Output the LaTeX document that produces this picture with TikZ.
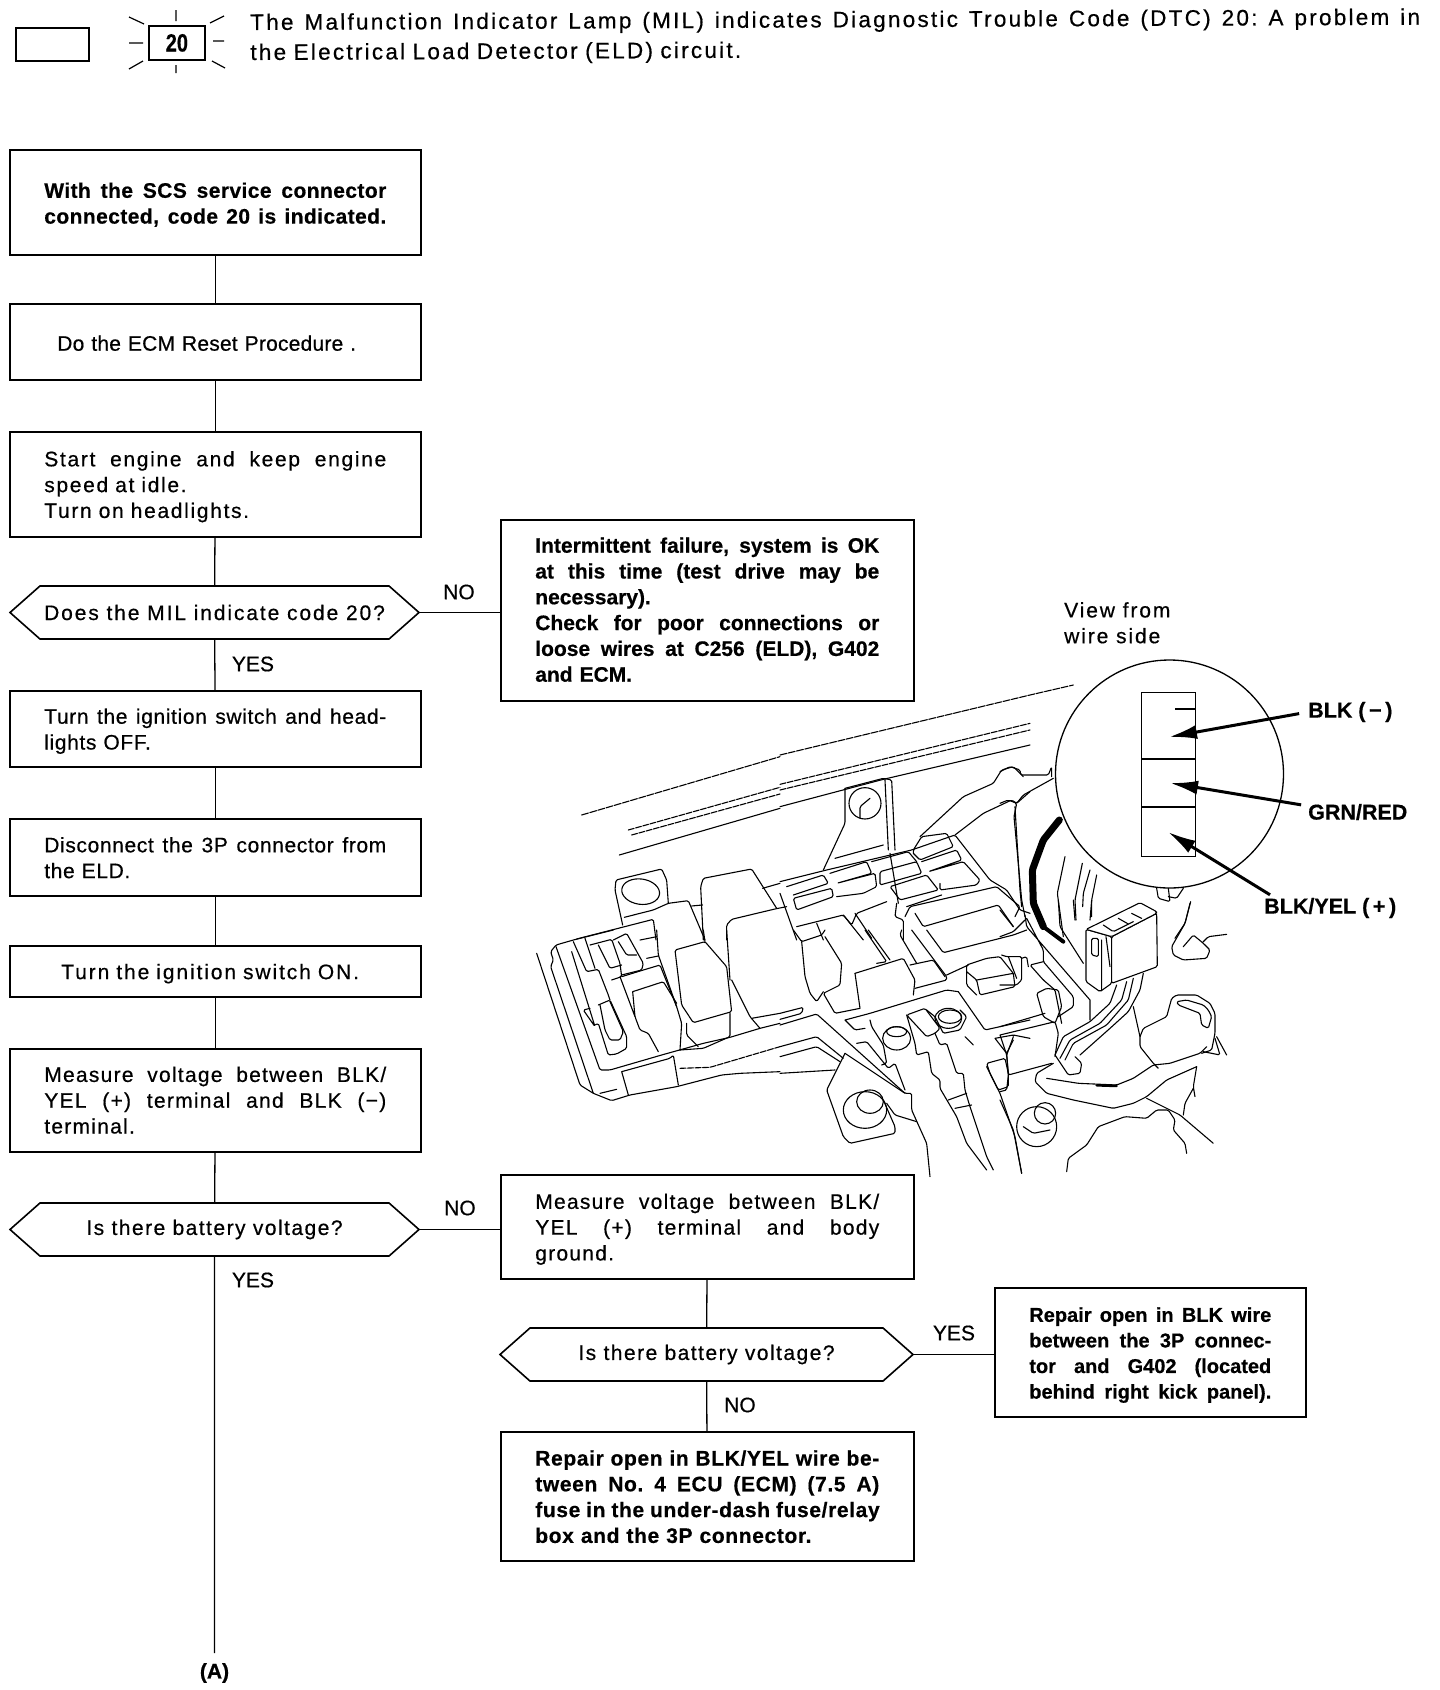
\documentclass[tikz,border=0pt]{standalone}
\usepackage{fontspec}
\setmainfont[RawFeature={embolden=0.5}]{Liberation Sans}
\usetikzlibrary{positioning, arrows.meta, calc, shapes.symbols}
\newcommand{\fillline}[1]{\makebox[\hsize][s]{\spaceskip=.28em plus 1fil\relax\xspaceskip=\spaceskip #1}}
\begin{document}
\begin{tikzpicture}[
    x=1pt, y=-1pt,
    font=\fontsize{21}{25.8}\selectfont,
    stepbox/.style 2 args={draw, line width=1.6pt, anchor=north west, fill=white,
        minimum width=#1, minimum height=#2, text width=#1-69pt, text height=20pt,
        align=left, inner sep=0pt},
    query/.style={draw, line width=1.6pt, signal, signal from=nowhere,
        signal to=west and east, signal pointer angle=83, fill=white,
        minimum width=#1, minimum height=53pt, align=center, inner sep=0pt},
    roomy/.style={font=\fontsize{21}{25.8}\selectfont\addfontfeature{LetterSpace=#1}},
    roomy/.default=6,
    strong/.style={font=\fontsize{21}{25.8}\selectfont\bfseries\addfontfeature{LetterSpace=#1}},
    strong/.default=0,
    flow/.style={line width=1.3pt},
    answer/.style={inner sep=0pt},
    tag/.style={font=\fontsize{21.5}{24}\selectfont\bfseries, inner sep=0pt, anchor=west},
    wire/.style={line width=3pt, -{Latex[length=28pt,width=14pt]}},
    sketch/.style={line width=1.1pt, line join=round, line cap=round, rounded corners=1.5pt},
  ]
  \useasboundingbox (0,0) rectangle (1440,1690);
  \node[draw, line width=1.8pt, anchor=north west, minimum width=73pt, minimum height=33pt] (lamp_off) at (15,27) {};
  \node[draw, line width=1.8pt, anchor=north west, minimum width=56pt, minimum height=34pt,
      inner sep=0pt, font=\fontsize{25}{25}\selectfont\bfseries] (lamp_on) at (148,25) {\scalebox{.8}[1]{20}};
  \draw[line width=1.2pt] (176,10) -- (176,21) (176,65) -- (176,73) (129,43) -- (143,43) (213,41) -- (224,41)
      (129,17) -- (144,24) (210,23) -- (224,16) (129,69) -- (143,61) (212,61) -- (225,68);
  \node[anchor=north west, text width=1170pt, align=left, inner sep=0pt, rotate=0.26,
      font=\fontsize{22.5}{30}\selectfont\addfontfeature{LetterSpace=10}] (heading) at (250,13.5)
      {\fillline{The Malfunction Indicator Lamp (MIL) indicates Diagnostic Trouble Code (DTC) 20: A problem in}\\the Electrical Load Detector (ELD) circuit.};

  \node[stepbox={411pt}{105pt}, strong=2] (scs_state) at (9,149) {\fillline{With the SCS service connector}\\\fillline{connected, code 20 is indicated.}};
  \node[stepbox={411pt}{76pt}, roomy=1, text height=18pt] (ecm_reset) at (9,303) {\hspace*{13pt}Do the ECM Reset Procedure .};
  \node[stepbox={411pt}{105pt}, roomy=8] (idle_start) at (9,431) {\fillline{Start engine and keep engine}\\speed at idle.\\Turn on headlights.};
  \node[query=409pt, roomy=9] (mil_query) at (214.5,612.5) {Does the MIL indicate code 20?};
  \node[stepbox={411pt}{76pt}, roomy=3] (ign_off) at (9,690) {\fillline{Turn the ignition switch and head-}\\lights OFF.};
  \node[stepbox={411pt}{77pt}, roomy=3, text height=16pt] (eld_unplug) at (9,818) {\fillline{Disconnect the 3P connector from}\\the ELD.};
  \node[stepbox={411pt}{51pt}, roomy=9] (ign_on) at (9,945) {\hspace*{17pt}Turn the ignition switch ON.};
  \node[stepbox={411pt}{103pt}, roomy, text height=15pt] (measure_blk) at (9,1048) {\fillline{Measure voltage between BLK/}\\\fillline{YEL (+) terminal and BLK (−)}\\terminal.};
  \node[query=409pt, roomy=7] (batt_query) at (214.5,1229.5) {Is there battery voltage?};
  \node[stepbox={413pt}{181pt}, strong, text height=14pt] (intermittent) at (500,519) {\fillline{Intermittent failure, system is OK}\\\fillline{at this time (test drive may be}\\necessary).\\\fillline{Check for poor connections or}\\\fillline{loose wires at C256 (ELD), G402}\\and ECM.};
  \node[stepbox={413pt}{104pt}, roomy] (measure_body) at (500,1174) {\fillline{Measure voltage between BLK/}\\\fillline{YEL (+) terminal and body}\\ground.};
  \node[query=413pt, roomy=7] (body_query) at (706.5,1354.5) {Is there battery voltage?};
  \node[stepbox={311pt}{129pt}, text width=242pt, font=\fontsize{20}{25.6}\selectfont\bfseries] (repair_blk) at (994,1287) {\fillline{Repair open in BLK wire}\\\fillline{between the 3P connec-}\\\fillline{tor and G402 (located}\\\fillline{behind right kick panel).}};
  \node[stepbox={413pt}{129pt}, strong=3, text height=16pt] (repair_yel) at (500,1431) {\fillline{Repair open in BLK/YEL wire be-}\\\fillline{tween No. 4 ECU (ECM) (7.5 A)}\\\fillline{fuse in the under-dash fuse/relay}\\box and the 3P connector.};
  \node[strong, inner sep=0pt] (exit_a) at (214.5,1673) {(A)};

  \draw[flow] (scs_state) -- (ecm_reset);
  \draw[flow] (ecm_reset) -- (idle_start);
  \draw[flow] (idle_start) -- (mil_query);
  \draw[flow] (mil_query) -- (ign_off);
  \draw[flow] (ign_off) -- (eld_unplug);
  \draw[flow] (eld_unplug) -- (ign_on);
  \draw[flow] (ign_on) -- (measure_blk);
  \draw[flow] (measure_blk) -- (batt_query);
  \draw[flow] (batt_query) -- ([yshift=10pt]exit_a.north);
  \draw[flow] (mil_query.east) -- (mil_query.east -| intermittent.west);
  \draw[flow] (batt_query.east) -- (batt_query.east -| measure_body.west);
  \draw[flow] (measure_body) -- (body_query);
  \draw[flow] (body_query) -- (repair_yel);
  \draw[flow] (body_query.east) -- (body_query.east -| repair_blk.west);
  \node[answer] (no_one) at (459,592) {NO};
  \node[answer] (yes_one) at (253,664) {YES};
  \node[answer] (no_two) at (460,1208) {NO};
  \node[answer] (yes_two) at (253,1280) {YES};
  \node[answer] (yes_three) at (954,1333) {YES};
  \node[answer] (no_three) at (740,1405) {NO};

  \begin{scope}[shift={(530,690)}, x=.3333pt, y=-.3333pt, sketch]
    \draw[dash pattern=on 7pt off 1.5pt] (155,375) -- (750,200);
    \draw[dash pattern=on 6pt off 1.5pt] (295,420) -- (750,292) (305,435) -- (750,312);
    \draw (268,495) -- (750,355);
    \draw (278,705) -- (255,600) -- (258,570) -- (395,537) -- (410,570) -- (415,640);
    \draw (332,605) ellipse [x radius=57, y radius=38, rotate=-8];
    \draw (283,682) -- (370,660) -- (415,640) -- (475,632) -- (525,750);
    \draw (140,747) -- (370,688) -- (378,750) (485,648) -- (518,645);
    \draw (520,750) -- (512,590) -- (520,565) -- (665,537) -- (740,655);
    \draw (590,750) -- (590,705) -- (605,688) -- (735,657) -- (770,650) (698,595) -- (750,580);
  \end{scope}
  \begin{scope}[shift={(780,690)}, x=.3333pt, y=-.3333pt, sketch]
    \draw[dash pattern=on 7pt off 1.5pt] (0,195) -- (750,15) -- (880,-15);
    \draw[dash pattern=on 6pt off 1.5pt] (0,283) -- (750,100) (0,300) -- (750,120);
    \draw (0,350) -- (310,268) -- (750,165);
    \draw (195,295) -- (310,265) -- (335,270) -- (345,480) (315,270) -- (325,480);
    \draw (255,340) circle [x radius=48, y radius=47];
    \draw (240,385) -- (240,350) -- (270,325);
    \draw (195,295) -- (195,400) -- (130,540) (165,505) -- (310,465);
    \draw (0,575) -- (140,540) -- (395,480) -- (525,435) -- (630,570) -- (680,600) -- (720,660) -- (750,670);
    \draw (400,490) -- (400,480) -- (425,440) -- (500,430) -- (520,470) -- (420,510) -- (400,490);
    \draw (425,515) -- (530,480) -- (545,510) -- (445,545) -- (550,515) -- (600,570) -- (590,585) -- (480,600) -- (480,580);
    \draw (300,545) -- (410,515) -- (425,550) -- (300,585) -- cycle;
    \draw (330,590) -- (440,555) -- (475,600) -- (360,630) -- cycle;
    \draw (275,515) -- (385,485) -- (410,515) (485,615) -- (380,650);
    \draw (150,550) -- (260,515) -- (275,550) -- (170,580) -- (285,550) -- (290,590) -- (250,610) -- (170,620);
    \draw (20,590) -- (130,555) -- (145,580) -- (40,615);
    \draw (40,625) -- (155,595) -- (160,620) -- (50,660) -- cycle;
    \draw (375,680) -- (390,650) -- (650,590) -- (720,650) -- (705,680);
    \draw (405,670) -- (430,710) -- (655,645) -- (700,710);
    \draw (50,710) -- (190,675) -- (215,705) -- (230,670) -- (320,635);
    \draw (110,700) -- (130,750) (190,675) -- (250,750) (225,670) -- (275,745);
    \draw (350,640) -- (345,680) -- (370,690) -- (370,750) (0,610) -- (50,750) (330,490) -- (355,640);
    \draw (420,440) -- (550,320) -- (640,280) -- (665,240) -- (700,230) -- (720,250) -- (730,260);
    \draw (525,435) -- (610,370) -- (695,330) -- (710,340) -- (750,305);
    \draw (705,350) -- (720,600) -- (725,650);
  \end{scope}
  \begin{scope}[shift={(530,930)}, x=.3333pt, y=-.3333pt, sketch]
    \draw (20,70) -- (150,465) -- (190,490) -- (245,512) -- (300,495) -- (440,470) -- (575,435) -- (630,430) -- (750,425);
    \draw (190,490) -- (62,110) -- (70,90) -- (62,65) -- (78,45) -- (130,30) -- (250,0);
    \draw (210,490) -- (260,478) (78,50) -- (210,420) -- (240,420) -- (395,375) -- (520,340) -- (600,322) -- (690,295) -- (750,280);
    \draw (275,425) -- (295,495) (275,425) -- (420,385) -- (430,375) -- (445,465);
    \draw[dash pattern=on 6pt off 1.5pt] (450,415) -- (540,412) -- (750,350);
    \draw (125,65) -- (195,290) -- (160,240) -- (180,235) (130,35) -- (170,125) -- (205,118) -- (235,195) -- (240,210);
    \draw (205,225) -- (240,210) -- (290,320) -- (290,355) -- (260,372) -- (235,375) -- (205,280) -- (195,285);
    \draw (210,225) -- (225,300) -- (240,330) -- (270,330) -- (280,305) -- (240,215);
    \draw (165,25) -- (195,115) (205,45) -- (240,115) -- (275,105) (180,45) -- (245,28) -- (270,100) -- (275,140) -- (245,150);
    \draw (250,30) -- (290,10) -- (340,100) -- (335,120) -- (275,135) (265,35) -- (290,75) -- (320,75);
    \draw (275,140) -- (340,120) -- (390,105) -- (440,230) -- (455,280) -- (450,360);
    \draw (308,185) -- (400,155) -- (440,220) (308,185) -- (315,260) -- (330,300) -- (355,310) -- (385,365) (270,140) -- (315,260);
    \draw (435,60) -- (525,35) -- (590,110) -- (605,245) -- (490,278) -- (455,225) -- cycle;
    \draw (600,250) -- (600,320) -- (520,355) -- (450,360) (470,280) -- (470,315) -- (505,350);
    \draw (605,150) -- (660,260) -- (690,295) (665,265) -- (750,250);
    \draw (380,0) -- (385,75) -- (440,230) (520,0) -- (525,35) (590,0) -- (600,150) (330,30) -- (380,20) (350,85) -- (385,78);
  \end{scope}
  \begin{scope}[shift={(780,930)}, x=.3333pt, y=-.3333pt, sketch]
    \draw (40,0) -- (65,35) -- (125,15) -- (135,0) (65,35) -- (75,140) -- (90,190) -- (110,215) -- (130,185);
    \draw (135,20) -- (185,100) -- (180,165) -- (130,190) -- (165,250) -- (240,235) (225,130) -- (240,235);
    \draw (225,130) -- (370,85) -- (405,150) -- (400,195) (290,100) -- (320,95) -- (255,0) (265,0) -- (330,90);
    \draw (365,0) -- (360,15) -- (410,100) (395,0) -- (500,140) -- (500,150) -- (405,175);
    \draw (390,105) -- (460,90) -- (495,140) (500,135) -- (565,105) (440,0) -- (490,68) -- (700,15) -- (740,0);
    \draw (560,125) -- (590,150) -- (600,195) -- (705,170) -- (700,130) -- (660,80) -- (620,85) -- (560,105) -- (560,165) -- (590,195) (590,150) -- (700,130);
    \draw (535,185) -- (615,300) -- (750,270) (0,250) -- (70,232) -- (65,250) -- (0,268);
    \draw (0,285) -- (110,252) -- (375,490) (195,270) -- (270,250) -- (500,180) -- (535,185) (195,270) -- (225,300) -- (255,295);
    \draw (270,270) -- (275,290) -- (310,345) -- (320,400) -- (305,405) (230,340) -- (260,335) -- (325,415) -- (345,400) -- (375,480);
    \draw (0,350) -- (110,320) -- (190,385) (0,380) -- (110,350) -- (180,395) (0,430) -- (165,420);
    \draw (195,370) -- (375,490) -- (395,490) -- (395,540) -- (440,640) -- (450,740);
    \draw (195,370) -- (140,480) -- (190,620) -- (210,640) -- (345,610) -- (345,590) -- (310,510);
    \draw (255,540) ellipse [x radius=65, y radius=55];
    \draw (270,515) ellipse [x radius=40, y radius=35];
    \draw (320,520) -- (345,555) -- (410,575);
    \draw (350,325) ellipse [x radius=42, y radius=35];
    \draw (350,305) ellipse [x radius=30, y radius=15];
    \draw (505,265) ellipse [x radius=40, y radius=30];
    \draw (510,260) ellipse [x radius=35, y radius=20];
    \draw[fill=white] (380,255) -- (435,235) -- (480,295) -- (465,310) -- (440,320) -- cycle;
    \draw (380,255) -- (405,340) -- (410,375) -- (445,365) -- (455,430) -- (480,450) -- (480,475) -- (530,560) -- (560,640) -- (620,720);
    \draw (465,310) -- (480,345) -- (500,340) -- (530,430) -- (550,430) -- (555,480) -- (570,530) -- (620,680) -- (640,720);
    \draw (505,510) -- (560,490) (525,535) -- (575,525) (440,240) -- (465,260) -- (490,310) -- (540,300) -- (560,260) -- (540,240) (555,320) -- (580,345);
    \draw (620,400) -- (675,385) -- (685,430) -- (685,470) -- (655,480) -- (630,430) -- cycle;
    \draw (645,325) -- (700,315) -- (750,325) (645,325) -- (680,370) -- (700,330) (680,370) -- (685,430);
    \draw (620,410) -- (660,490) -- (705,620) -- (725,730);
  \end{scope}
  \begin{scope}[shift={(1000,640)}, x=.3333pt, y=-.3333pt, sketch]
    \draw (0,395) -- (30,380) -- (60,390) -- (62,405) -- (145,405) -- (155,380) -- (155,410) (50,490) -- (70,465) -- (160,415);
    \draw (0,490) -- (25,480) -- (50,490) -- (42,530) -- (65,780) -- (75,830);
    \draw[line width=7pt] (178,540) -- (130,600) -- (97,690) -- (100,790) -- (130,860);
    \draw[line width=4pt] (130,860) -- (190,905);
    \draw (195,650) -- (172,760) -- (190,890) (247,670) -- (225,780) -- (228,840) (270,690) -- (250,760) -- (248,800) (290,705) -- (275,780) -- (275,830);
    \draw (470,745) -- (475,775) -- (510,785) -- (505,745) (505,770) -- (530,775) -- (550,745) (570,790) -- (555,850) -- (525,895);
  \end{scope}
  \begin{scope}[shift={(1000,900)}, x=.3333pt, y=-.3333pt, sketch]
    \draw (175,0) -- (180,80) -- (250,190) (220,0) -- (225,60) (275,0) -- (270,60);
    \draw (350,255) -- (330,310) -- (270,365) -- (190,410) -- (165,465) (380,245) -- (365,300) -- (300,370) -- (210,420) -- (180,475);
    \draw (400,235) -- (385,300) -- (320,375) -- (220,430) -- (195,480) (430,220) -- (420,270) -- (385,335) -- (330,385) -- (240,465);
    \draw (165,465) -- (205,525) -- (240,520) -- (245,490) -- (225,470);
    \draw (160,490) -- (110,520) -- (105,545) -- (140,580) -- (220,600) -- (340,625) -- (400,610) -- (440,590) -- (500,540) -- (590,500);
    \draw (140,535) -- (235,550) -- (350,555) -- (400,535) -- (460,495) -- (510,490) -- (600,460) -- (620,440);
    \draw[line width=2.5pt] (290,556) -- (350,558);
    \draw (420,410) -- (430,385) -- (500,350) -- (515,295) -- (530,285) -- (590,285) -- (630,310) -- (645,340) -- (645,400) -- (635,450) -- (605,460);
    \draw (530,305) -- (535,315) -- (600,340) -- (605,375) -- (625,385) -- (635,350) -- (625,330) -- (610,315) -- (560,300) -- cycle;
    \draw (420,410) -- (420,440) -- (460,490) -- (475,505) (400,320) -- (420,410);
    \draw (650,410) -- (680,465) (610,455) -- (660,465) -- (645,415);
    \draw (590,500) -- (580,560) -- (585,590) (580,565) -- (555,610) -- (550,645) (440,595) -- (540,645) -- (640,730);
    \draw (200,815) -- (205,775) -- (260,735) -- (295,680) -- (375,650) -- (440,655) -- (470,630) -- (505,630) -- (525,660) -- (520,690) -- (555,730) -- (560,760);
    \draw (110,680) circle [radius=60];
    \draw (135,640) circle [radius=32];
    \draw (70,680) -- (100,700) -- (150,690) (0,600) -- (40,690) -- (65,820);
    \draw (270,300) -- (270,360) (270,300) -- (80,80) -- (75,45) (80,55) -- (130,150) -- (130,185) -- (220,290) -- (220,320) -- (175,350);
    \draw (130,185) -- (90,195) -- (130,240) -- (165,270) -- (185,370);
    \draw (110,280) -- (130,350) -- (165,370) -- (185,320) -- (175,270) -- (140,265) -- cycle;
    \draw (0,380) -- (135,340) (0,405) -- (165,365) -- (175,400) -- (165,470) (0,405) -- (20,465) -- (25,525) -- (155,490);
    \draw (20,465) -- (40,410) (25,525) -- (20,570) -- (0,575);
    \draw (0,255) -- (50,255) -- (65,240) -- (65,170) -- (20,170) -- (5,165) (25,170) -- (50,235) (65,175) -- (80,170) -- (85,200);
    \draw (0,110) -- (40,95) -- (75,60) (0,30) -- (40,80);
    \draw (572,5) -- (555,70) -- (515,140) -- (520,165) -- (550,180) -- (620,175) -- (630,150) -- (610,130) -- (580,105) -- (550,140) (610,125) -- (625,110) -- (680,103);
    \draw[fill=white] (258,88) -- (335,110) -- (335,250) -- (300,275) -- (258,245) -- cycle;
    \draw[fill=white] (335,110) -- (470,40) -- (472,200) -- (335,250) -- cycle;
    \draw[fill=white] (258,88) -- (285,75) -- (420,8) -- (470,35) -- (470,40) -- (335,110) -- cycle;
    \draw (310,75) -- (340,95) -- (400,65) (355,55) -- (385,72) (395,40) -- (425,55);
    \draw (275,115) -- (275,165) -- (295,170) -- (295,115) -- cycle (305,120) -- (305,270) (318,110) -- (330,200);
  \end{scope}

  \node[circle, draw, line width=1.3pt, fill=white, minimum size=228pt, inner sep=0pt] (lens) at (1169.5,774) {};
  \node[draw, line width=1.2pt, anchor=north west, minimum width=54pt, minimum height=164pt, inner sep=0pt] (plug_face) at (1141,692) {};
  \draw[line width=1.2pt] (plug_face.west |- 0,759) -- (plug_face.east |- 0,759);
  \draw[line width=1.2pt] (plug_face.west |- 0,807) -- (plug_face.east |- 0,807);
  \draw[line width=1.2pt] (1175,709) -- (plug_face.east |- 0,709);
  \node[anchor=north west, align=left, inner sep=0pt, roomy=9] (view_note) at (1064,602) {View from\\wire side};
  \node[tag] (lbl_blk) at (1308,712) {BLK (\,−\,)};
  \node[tag] (lbl_grn) at (1308,812) {GRN/RED};
  \node[tag] (lbl_yel) at (1264,908) {BLK/YEL (\,+\,)};
  \coordinate (pin_blk) at (1169,737);
  \coordinate (pin_grn) at (1170,783);
  \coordinate (pin_yel) at (1168,832);
  \draw[wire, shorten <=9pt] (lbl_blk.west) -- (pin_blk);
  \draw[wire, shorten <=7pt] ([yshift=6pt]lbl_grn.west) -- (pin_grn);
  \draw[wire] ([xshift=6pt,yshift=3pt]lbl_yel.north west) -- (pin_yel);
\end{tikzpicture}
\end{document}
